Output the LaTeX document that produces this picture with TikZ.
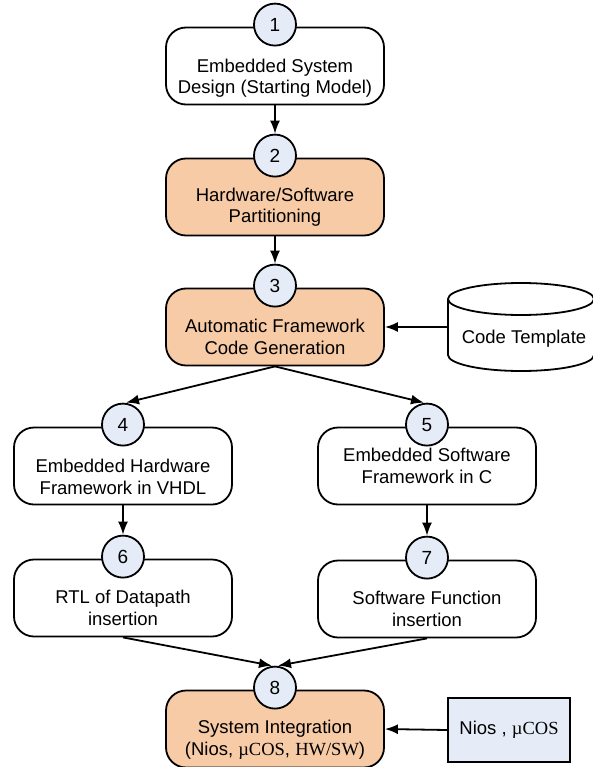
\documentclass[tikz,border=0pt]{standalone}
\usepackage{fontspec}
\setmainfont{Liberation Sans}
\newfontfamily\timespart{Liberation Serif}
\usetikzlibrary{arrows.meta}
\definecolor{stageorange}{RGB}{248,203,167}
\definecolor{numblue}{RGB}{230,236,247}
\newcommand{\muCOS}{{\timespart µCOS}}

\begin{document}
\begin{tikzpicture}[x=1pt, y=-1pt,
  stage/.style={draw, rounded corners=20pt, line width=1.8pt,
                minimum width=218pt, minimum height=77pt},
  stagetext/.style={align=center, font=\fontsize{18.5}{21.5}\selectfont},
  number/.style={circle, draw, fill=numblue, line width=1.8pt,
                 minimum size=42pt, inner sep=0pt,
                 font=\fontsize{19}{19}\selectfont},
  flow/.style={-{Latex[length=13pt, width=10pt]}, line width=1.8pt}]
  \newcommand{\rx}{73}
  \newcommand{\ry}{16}

  \useasboundingbox (0,0) rectangle (592,767);

  % Draws the eight stages, their numbers and their texts
  \foreach \n/\x/\y/\col/\ty/\txt in {
      1/275/66/white/78/{Embedded System\\Design (Starting Model)},
      2/275/197/stageorange/207/{Hardware/Software\\Partitioning},
      3/275/327/stageorange/337/{Automatic Framework\\Code Generation},
      4/123/466/white/477/{Embedded Hardware\\Framework in VHDL},
      5/427/466/white/466/{Embedded Software\\Framework in C},
      6/123/598/white/608/{RTL of Datapath\\insertion},
      7/427/599/white/609/{Software Function\\insertion},
      8/275/729/stageorange/740/{System Integration\\(Nios, \muCOS, {\timespart HW/SW})}}
  {
    \node[stage, fill=\col] (s\n) at (\x,\y) {};
    \node[stagetext] (t\n) at (\x,\ty) {\txt};
    \node[number] (c\n) at ([yshift=2pt]s\n.north) {\n};
  }

  % Draws the code template cylinder
  \draw[line width=1.8pt] (448,299) -- (448,355)
        arc [start angle=180, end angle=0, x radius=\rx, y radius=\ry]
        -- (594,299);
  \draw[line width=1.8pt] (521,299) ellipse [x radius=\rx, y radius=\ry];
  \node[stagetext] (tmpl) at (524,339) {Code Template};
  \coordinate (tmplin) at (448,327);

  % Draws the Nios box
  \node[draw, fill=numblue, line width=1.8pt, minimum width=122pt,
        minimum height=64pt, font=\fontsize{18.5}{21.5}\selectfont]
        (nios) at (509,730) {Nios , \muCOS};

  % Draws the arrows between the stages
  \draw[flow] (s1.south) -- (c2.north);
  \draw[flow] (s2.south) -- (c3.north);
  \draw[flow] (tmplin) -- (s3.east);
  \draw[flow] (s3.south) -- ([xshift=3pt]c4.north);
  \draw[flow] (s3.south) -- ([xshift=-3pt]c5.north);
  \draw[flow] (s4.south) -- (c6.north);
  \draw[flow] (s5.south) -- (c7.north);
  \draw[flow] (s6.south) -- ([xshift=-3pt]c8.north);
  \draw[flow] (s7.south) -- ([xshift=3pt]c8.north);
  \draw[flow] (nios.west) -- (s8.east);
\end{tikzpicture}
\end{document}
